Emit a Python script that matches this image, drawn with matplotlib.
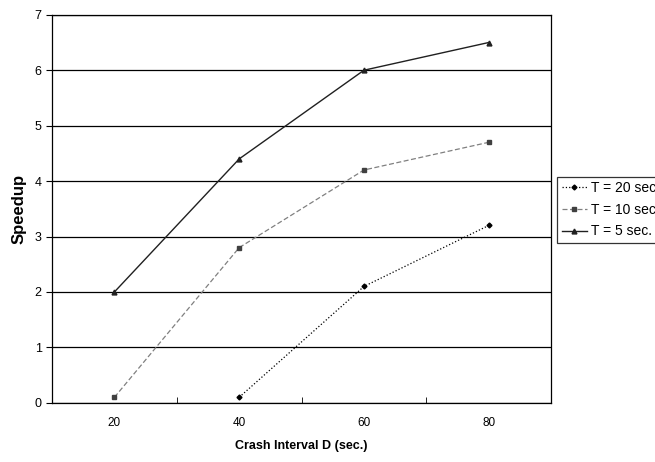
import matplotlib.pyplot as plt
import numpy as np

plt.rcParams['font.family'] = ['Liberation Sans', 'DejaVu Sans']

crash = ['20', '40', '60', '80']
t20 = [np.nan, 0.1, 2.1, 3.2]
t10 = [0.1, 2.8, 4.2, 4.7]
t5 = [2.0, 4.4, 6.0, 6.5]

fig = plt.figure(figsize=(6.55, 4.62), dpi=100)
ax = fig.add_axes([0.0794, 0.128, 0.762, 0.840])

x = np.arange(1, len(crash) + 1)

ax.plot(x, t20, linestyle=':', color='black', marker='D', markersize=2.5,
        linewidth=0.9, label='T = 20 sec.')
ax.plot(x, t10, linestyle=(0, (4, 2)), color='#808080', marker='s', markersize=3,
        markerfacecolor='#404040', markeredgecolor='#404040',
        linewidth=0.9, label='T = 10 sec.')
ax.plot(x, t5, linestyle='-', color='#202020', marker='^', markersize=3.5,
        linewidth=1.0, label='T = 5 sec.')

ax.set_xlim(0.5, 4.5)
ax.set_ylim(0, 7)
ax.set_yticks(range(8))
ax.set_xticks(x)
ax.set_xticklabels(crash)
ax.set_xticks(np.arange(0.5, 4.6, 1), minor=True)
ax.tick_params(axis='x', which='major', length=0, labelsize=8.5, pad=10)
ax.tick_params(axis='x', which='minor', length=4, direction='in')
ax.tick_params(axis='y', length=4, direction='out', labelsize=9)
ax.yaxis.grid(True, color='black', linewidth=0.9)
ax.set_axisbelow(True)
for s in ax.spines.values():
    s.set_linewidth(0.9)

ax.set_xlabel('Crash Interval D (sec.)', fontsize=9, fontweight='bold', labelpad=8)
ax.set_ylabel('Speedup', fontsize=12, fontweight='bold', labelpad=6)

leg = fig.legend(loc='upper left', bbox_to_anchor=(0.851, 0.617), fontsize=10,
                 frameon=True, fancybox=False, edgecolor='black', handlelength=1.8,
                 handletextpad=0.3, borderpad=0.3, labelspacing=0.55,
                 borderaxespad=0)
leg.get_frame().set_linewidth(0.9)

fig.savefig('out.png', dpi=100)
